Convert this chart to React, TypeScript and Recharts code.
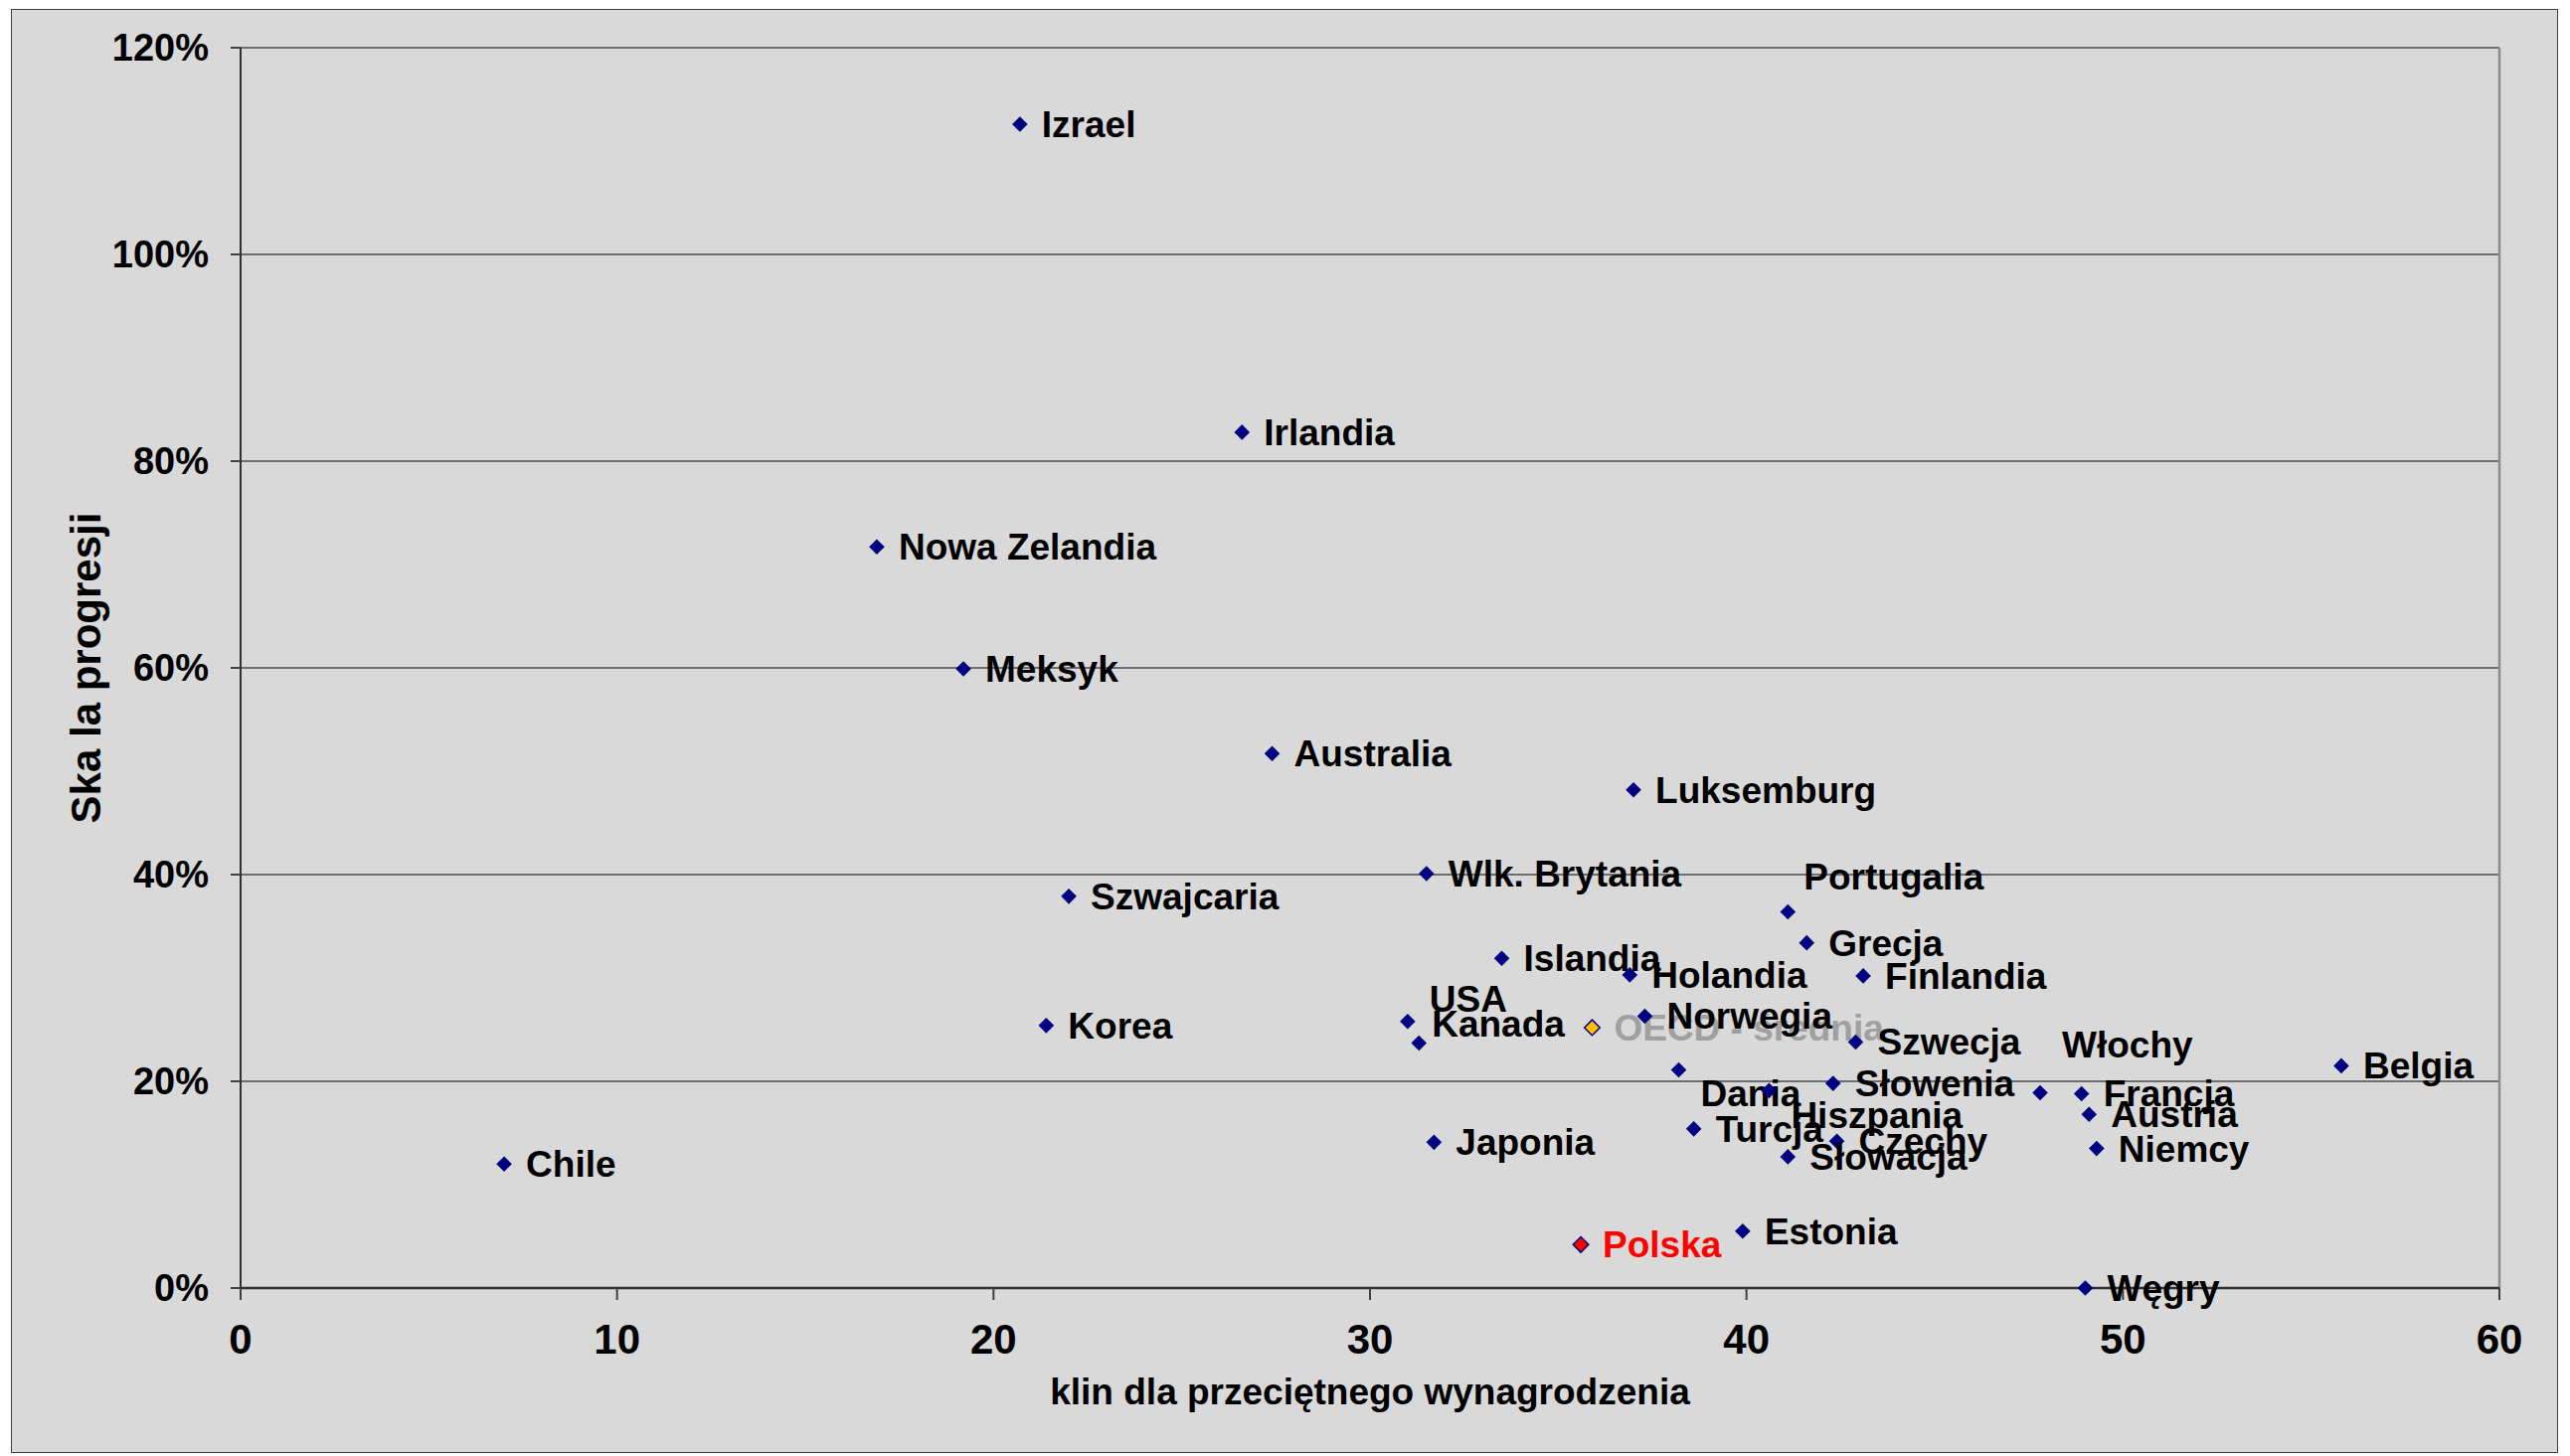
import React from 'react';
import { ScatterChart, Scatter, XAxis, YAxis, CartesianGrid, ReferenceLine, Label } from 'recharts';

// ---- data ----
const countries = [
  'Izrael', 'Irlandia', 'Nowa Zelandia', 'Meksyk', 'Australia', 'Luksemburg',
  'Wlk. Brytania', 'Szwajcaria', 'Portugalia', 'Grecja', 'Islandia', 'Holandia',
  'Finlandia', 'Korea', 'USA', 'Kanada', 'Norwegia', 'Szwecja', 'Dania',
  'Hiszpania', 'Słowenia', 'Włochy', 'Francja', 'Austria', 'Niemcy', 'Belgia',
  'Turcja', 'Czechy', 'Słowacja', 'Japonia', 'Chile', 'Estonia', 'Węgry', 'Polska',
];
// klin podatkowy (x)
const taxWedge = [
  20.7, 26.6, 16.9, 19.2, 27.4, 37.0,
  31.5, 22.0, 41.1, 41.6, 33.5, 36.9,
  43.1, 21.4, 31.0, 31.3, 37.3, 42.9, 38.2,
  40.6, 42.3, 47.8, 48.9, 49.1, 49.3, 55.8,
  38.6, 42.4, 41.1, 31.7, 7.0, 39.9, 49.0, 35.6,
];
// skala progresji w % (y)
const progression = [
  112.6, 82.8, 71.7, 59.9, 51.7, 48.2,
  40.1, 37.9, 36.4, 33.4, 31.9, 30.3,
  30.2, 25.4, 25.8, 23.7, 26.3, 23.8, 21.1,
  19.1, 19.8, 18.9, 18.8, 16.8, 13.5, 21.5,
  15.4, 14.2, 12.7, 14.1, 12.0, 5.5, 0.0, 4.2,
];
const oecdName = 'OECD - średnia';
const oecdWedge = 35.9;
const oecdProgression = 25.2;

const xTicks = [0, 10, 20, 30, 40, 50, 60];
const yTicks = [0, 20, 40, 60, 80, 100, 120];
const xTitle = 'klin dla przeciętnego wynagrodzenia';
const yTitle = 'Ska la progresji';

// ---- layout / style (not data) ----
const FONT = '"Liberation Sans", Arial, sans-serif';
const labelNudge: Record<string, [number, number]> = {
  USA: [0, -23],
  Kanada: [-9, -20],
  Dania: [0, 23],
  Hiszpania: [0, 25],
  'Włochy': [0, -48],
  Portugalia: [-6, -35],
};

const countryRows = countries.map((name, i) => ({ name, x: taxWedge[i], y: progression[i] }));
const oecdRows = [{ name: oecdName, x: oecdWedge, y: oecdProgression }];

const Marker = (props: any) => {
  const { cx, cy, payload } = props;
  if (cx == null || cy == null) return null;
  const name: string = payload.name;
  const isPoland = name === 'Polska';
  const isOecd = name === oecdName;
  const fill = isPoland ? '#FF0000' : isOecd ? '#FFC000' : '#000080';
  const labelColor = isPoland ? '#FF0000' : isOecd ? '#A0A0A0' : '#000000';
  const r = 7.8;
  const [dx, dy] = labelNudge[name] ?? [0, 0];
  return (
    <g>
      <polygon
        points={`${cx},${cy - r} ${cx + r},${cy} ${cx},${cy + r} ${cx - r},${cy}`}
        fill={fill}
        stroke="#000080"
        strokeWidth={isPoland || isOecd ? 1.5 : 0}
      />
      <text
        x={cx + 22 + dx}
        y={cy + 13 + dy}
        fill={labelColor}
        fontFamily={FONT}
        fontWeight={700}
        fontSize={37}
      >
        {name}
      </text>
    </g>
  );
};

const XTitle = (props: any) => {
  const vb = props.viewBox || {};
  return (
    <text
      x={vb.x + vb.width / 2}
      y={vb.y + 117}
      textAnchor="middle"
      fill="#000"
      fontFamily={FONT}
      fontWeight={700}
      fontSize={37}
    >
      {xTitle}
    </text>
  );
};

const YTitle = (props: any) => {
  const vb = props.viewBox || {};
  const cx = 86;
  const cy = vb.y + vb.height / 2;
  return (
    <text
      x={cx}
      y={cy}
      transform={`rotate(-90 ${cx} ${cy})`}
      textAnchor="middle"
      dominantBaseline="central"
      fill="#000"
      fontFamily={FONT}
      fontWeight={700}
      fontSize={42}
    >
      {yTitle}
    </text>
  );
};

export default function App() {
  return (
    <div style={{ position: 'absolute', left: 0, top: 0, width: 2585, height: 1465, background: '#ffffff' }}>
      <div
        style={{
          position: 'absolute',
          left: 11,
          top: 9,
          width: 2560,
          height: 1451,
          background: '#D9D9D9',
          border: '1.5px solid #404040',
        }}
      />
      <div style={{ position: 'absolute', left: 0, top: 0 }}>
        <ScatterChart width={2585} height={1465} margin={{ top: 48, right: 71, left: 0, bottom: 0 }}>
          <CartesianGrid vertical={false} stroke="#6E6E6E" strokeWidth={2} />
          <XAxis
            type="number"
            dataKey="x"
            domain={[0, 60]}
            ticks={xTicks}
            interval={0}
            height={169}
            tickSize={12}
            tickMargin={24}
            axisLine={{ stroke: '#303030', strokeWidth: 2.5 }}
            tickLine={{ stroke: '#404040', strokeWidth: 2 }}
            tick={{ fill: '#000', fontSize: 42, fontWeight: 700, fontFamily: FONT }}
          >
            <Label content={<XTitle />} />
          </XAxis>
          <YAxis
            type="number"
            dataKey="y"
            domain={[0, 120]}
            ticks={yTicks}
            interval={0}
            width={242}
            tickSize={10}
            tickMargin={22}
            tickFormatter={(v: number) => `${v}%`}
            axisLine={{ stroke: '#303030', strokeWidth: 2 }}
            tickLine={{ stroke: '#404040', strokeWidth: 2 }}
            tick={{ fill: '#000', fontSize: 38, fontWeight: 700, fontFamily: FONT }}
          >
            <Label content={<YTitle />} />
          </YAxis>
          <ReferenceLine x={60} stroke="#8C8C8C" strokeWidth={2.5} />
          <Scatter data={oecdRows} shape={<Marker />} isAnimationActive={false} />
          <Scatter data={countryRows} shape={<Marker />} isAnimationActive={false} />
        </ScatterChart>
      </div>
    </div>
  );
}
